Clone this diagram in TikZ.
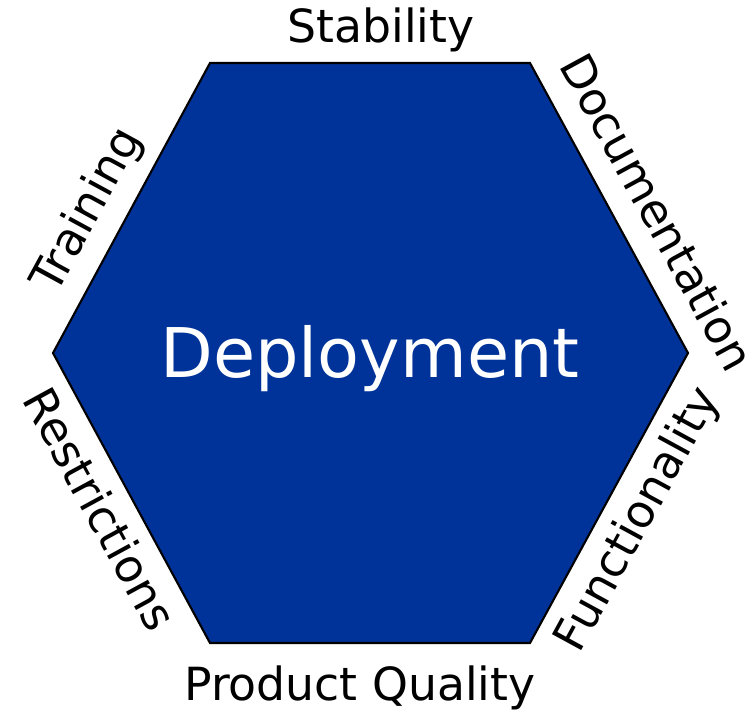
\documentclass[tikz,border=0pt]{standalone}
\usepackage{fontspec}
\setmainfont{DejaVu Sans}
\usetikzlibrary{calc}

\definecolor{deployblue}{HTML}{003399}

\begin{document}
\begin{tikzpicture}[x=0.02cm,y=-0.02cm,semithick]
	\tikzstyle{side}=[font=\fontsize{26}{30}\selectfont,inner sep=8pt]
	\tikzstyle{core}=[font=\fontsize{39}{45}\selectfont,text=white]
	\useasboundingbox (0,0) rectangle (751,710);

	% corners of the hexagon
	\coordinate (TL) at (210,63);
	\coordinate (TR) at (530,63);
	\coordinate (R) at (688,353);
	\coordinate (BR) at (530,643);
	\coordinate (BL) at (210,643);
	\coordinate (L) at (53,353);

	\draw[fill=deployblue,line width=1.2pt,line join=miter] (TL) -- (TR) -- (R) -- (BR) -- (BL) -- (L) -- cycle;
	\node[core] (deploy) at (370,359) {Deployment};

	% labels along the sides
	\node[side,anchor=south] (stab) at ($(TL)!0.5!(TR)+(11,4)$) {Stability};
	\node[side,anchor=south,rotate=-61.4] (doc) at ($(TR)!0.58!(R)+(8,-4)$) {Documentation};
	\node[side,anchor=north,rotate=61.4] (func) at ($(R)!0.515!(BR)$) {Functionality};
	\node[side,anchor=north] (qual) at ($(BL)!0.5!(BR)+(-10,8)$) {Product Quality};
	\node[side,anchor=north,rotate=-61.4] (restr) at ($(L)!0.485!(BL)$) {Restrictions};
	\node[side,anchor=south,rotate=61.4] (train) at ($(TL)!0.57!(L)$) {Training};
\end{tikzpicture}
\end{document}
